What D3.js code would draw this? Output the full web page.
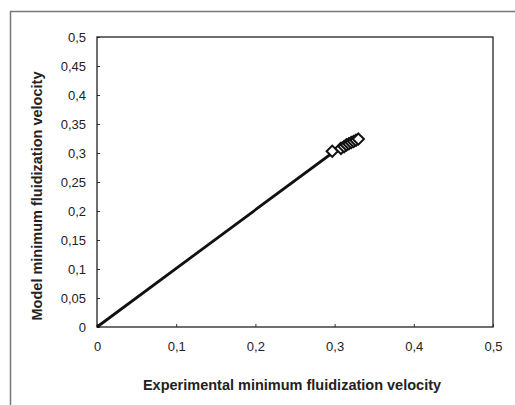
<!DOCTYPE html>
<html><head><meta charset="utf-8">
<script src="https://cdn.jsdelivr.net/npm/d3@7"></script>
<style>body{margin:0;background:#fff}svg{display:block}</style>
</head><body>
<svg id="c" width="515" height="405"></svg>
<script>
const expX = [0.297, 0.308, 0.312, 0.315, 0.318, 0.321, 0.324, 0.327, 0.330];
const modY = [0.303, 0.308, 0.311, 0.314, 0.316, 0.318, 0.320, 0.322, 0.324];
const lineX = [0, 0.297, 0.327];
const lineY = [0, 0.300, 0.322];
const xTicks = [0, 0.1, 0.2, 0.3, 0.4, 0.5];
const yTicks = [0, 0.05, 0.1, 0.15, 0.2, 0.25, 0.3, 0.35, 0.4, 0.45, 0.5];
const xTitle = "Experimental minimum fluidization velocity";
const yTitle = "Model minimum fluidization velocity";

const svg = d3.select("#c");
const L = 97, R = 493, T = 37, B = 327;
const x = d3.scaleLinear().domain([0, 0.5]).range([L, R]);
const y = d3.scaleLinear().domain([0, 0.5]).range([B, T]);
const fmt = v => String(+v.toFixed(2)).replace(".", ",");

// outer frame
svg.append("rect").attr("x", 10.5).attr("y", 11.5).attr("width", 530).attr("height", 420)
  .attr("fill", "none").attr("stroke", "#777").attr("stroke-width", 1.5);

// axes
const xa = svg.append("g").attr("transform", `translate(0,${B})`)
  .call(d3.axisBottom(x).tickValues(xTicks).tickSize(-3).tickPadding(15).tickFormat(fmt));
const ya = svg.append("g").attr("transform", `translate(${L},0)`)
  .call(d3.axisLeft(y).tickValues(yTicks).tickSize(-3).tickPadding(11).tickFormat(fmt));
[xa, ya].forEach(g => {
  g.select(".domain").remove();
  g.selectAll("line").attr("stroke", "#333");
  g.selectAll("text").attr("font-family", "Liberation Sans, Arial, sans-serif")
    .attr("font-size", 13).attr("fill", "#222");
});
// plot frame
svg.append("rect").attr("x", L).attr("y", T).attr("width", R - L).attr("height", B - T)
  .attr("fill", "none").attr("stroke", "#222").attr("stroke-width", 1.3);

// line
svg.append("path").datum(lineX.map((v, i) => [v, lineY[i]]))
  .attr("d", d3.line().x(d => x(d[0])).y(d => y(d[1])))
  .attr("fill", "none").attr("stroke", "#111").attr("stroke-width", 2.8);

// markers
const sym = d3.symbol().type(d3.symbolDiamond2).size(80);
svg.append("g").selectAll("path").data(expX.map((v, i) => [v, modY[i]])).join("path")
  .attr("transform", d => `translate(${x(d[0])},${y(d[1])})`)
  .attr("d", sym).attr("fill", "#fff").attr("stroke", "#111").attr("stroke-width", 2);

// titles
svg.append("text").attr("x", 292).attr("y", 390).attr("text-anchor", "middle")
  .attr("font-family", "Liberation Sans, Arial, sans-serif").attr("font-weight", "bold")
  .attr("font-size", 14.5).attr("fill", "#222").text(xTitle);
svg.append("text").attr("transform", "translate(42,196) rotate(-90)").attr("text-anchor", "middle")
  .attr("font-family", "Liberation Sans, Arial, sans-serif").attr("font-weight", "bold")
  .attr("font-size", 14.5).attr("fill", "#222").text(yTitle);
</script>
</body></html>
